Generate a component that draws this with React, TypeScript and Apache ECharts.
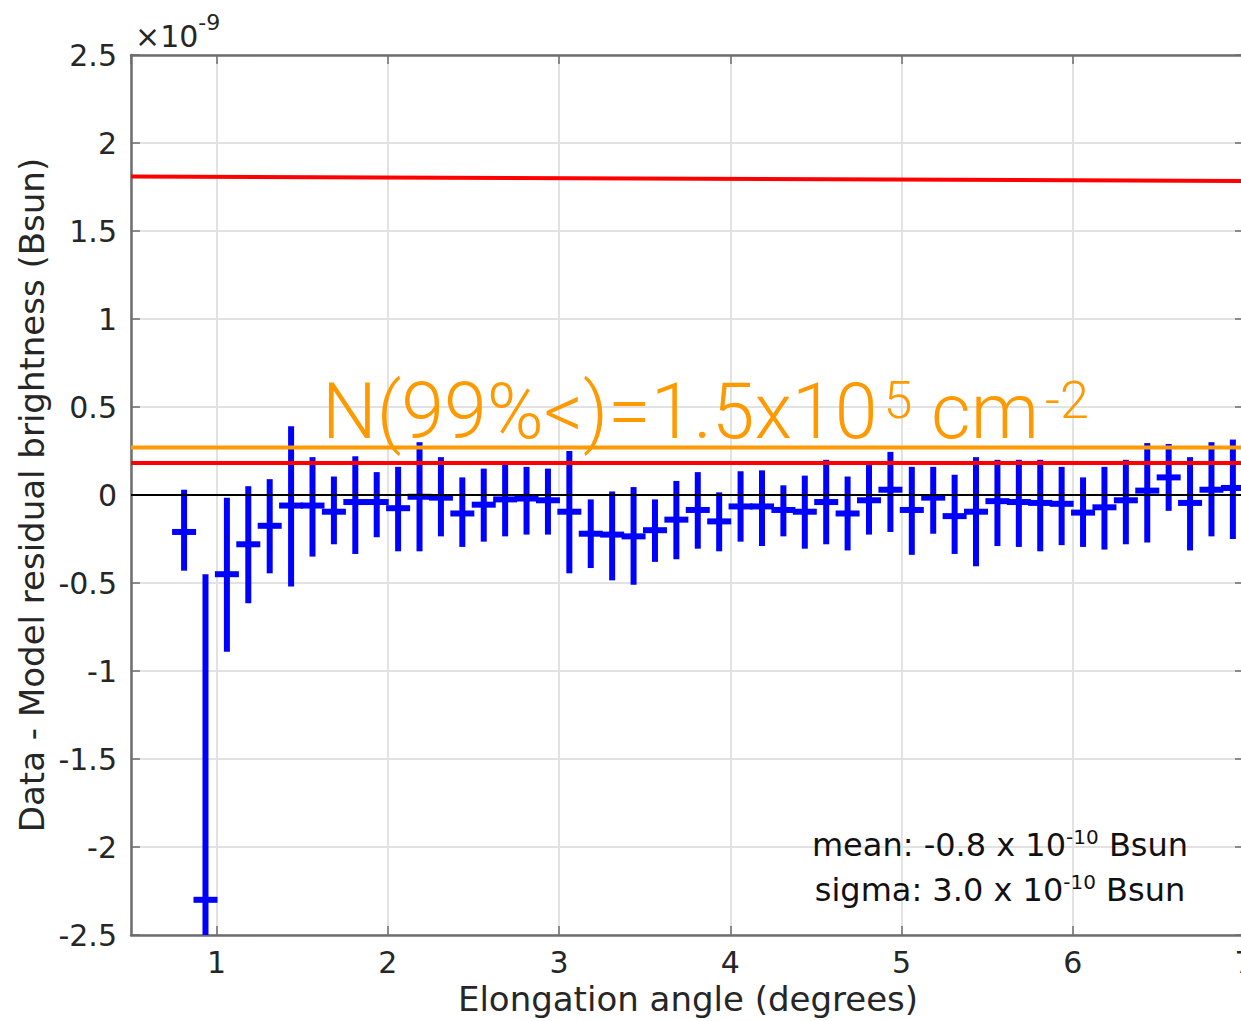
import { useEffect, useRef } from "react";
import * as echarts from "echarts";

// Elongation angle of each bin (degrees)
const ELONGATION = [
  0.81, 0.935, 1.06, 1.185, 1.31, 1.435, 1.56, 1.685, 1.81, 1.935,
  2.06, 2.185, 2.31, 2.435, 2.56, 2.685, 2.81, 2.935, 3.06, 3.185,
  3.31, 3.435, 3.56, 3.685, 3.81, 3.935, 4.06, 4.185, 4.31, 4.435,
  4.56, 4.685, 4.81, 4.935, 5.06, 5.185, 5.31, 5.435, 5.56, 5.685,
  5.81, 5.935, 6.06, 6.185, 6.31, 6.435, 6.56, 6.685, 6.81, 6.935,
];

// Data - model residual brightness per bin (units of 1e-9 Bsun)
const RESIDUAL = [
  -0.21, -2.3, -0.45, -0.28, -0.175, -0.06, -0.06, -0.095, -0.04, -0.04,
  -0.075, -0.01, -0.015, -0.105, -0.055, -0.025, -0.02, -0.03, -0.095, -0.22,
  -0.225, -0.235, -0.2, -0.14, -0.085, -0.15, -0.065, -0.065, -0.085, -0.095,
  -0.04, -0.105, -0.03, 0.03, -0.085, -0.015, -0.12, -0.095, -0.035, -0.04,
  -0.045, -0.05, -0.1, -0.07, -0.03, 0.025, 0.1, -0.045, 0.03, 0.04,
];

// Upper end of each error bar
const RESIDUAL_HIGH = [
  0.03, -0.45, -0.015, 0.05, 0.09, 0.39, 0.215, 0.105, 0.22, 0.13,
  0.16, 0.3, 0.215, 0.1, 0.15, 0.175, 0.16, 0.15, 0.25, -0.025,
  0.02, 0.045, -0.025, 0.08, 0.13, 0.015, 0.135, 0.14, 0.055, 0.11,
  0.2, 0.105, 0.17, 0.245, 0.16, 0.16, 0.115, 0.215, 0.2, 0.2,
  0.2, 0.16, 0.1, 0.16, 0.2, 0.295, 0.29, 0.215, 0.3, 0.315,
];

// Lower end of each error bar
const RESIDUAL_LOW = [
  -0.43, -2.5, -0.89, -0.615, -0.445, -0.52, -0.35, -0.28, -0.335, -0.24,
  -0.32, -0.32, -0.235, -0.295, -0.265, -0.235, -0.225, -0.225, -0.445, -0.415,
  -0.485, -0.51, -0.38, -0.365, -0.305, -0.32, -0.265, -0.29, -0.235, -0.305,
  -0.28, -0.315, -0.225, -0.21, -0.34, -0.22, -0.335, -0.405, -0.29, -0.295,
  -0.32, -0.285, -0.295, -0.31, -0.28, -0.27, -0.09, -0.315, -0.235, -0.25,
];

const X_EXTENT = [0.5, 7];
const X_TICKS = [1, 2, 3, 4, 5, 6, 7];
const Y_EXTENT = [-2.5, 2.5];
const Y_STEP = 0.5;

// Reference levels (units of 1e-9 Bsun) at the two ends of the x range
const UPPER_LIMIT = [1.809, 1.784];
const LOWER_LIMIT = [0.182, 0.182];
const COLUMN_LIMIT = [0.27, 0.27];
const ZERO_LEVEL = [0, 0];

const FONT = '"DejaVu Sans", Verdana, sans-serif';
const LIGHT_FONT = 'Roboto, "Liberation Sans", sans-serif';
const AXIS_COLOR = "#6e6e6e";
const TEXT_COLOR = "#262626";

function levelLine(values: number[], color: string, width: number) {
  return {
    type: "line",
    data: [
      [X_EXTENT[0], values[0]],
      [X_EXTENT[1], values[1]],
    ],
    symbol: "none",
    silent: true,
    z: 5,
    lineStyle: { color, width },
  };
}

export default function App() {
  const ref = useRef<HTMLDivElement>(null);

  useEffect(() => {
    if (!ref.current) return;
    const chart = echarts.init(ref.current, null, { renderer: "svg" });

    const axisLine = { show: true, onZero: false, lineStyle: { color: AXIS_COLOR, width: 2.5 } };
    const axisTick = { show: true, inside: true, length: 9, lineStyle: { color: AXIS_COLOR, width: 1.5 } };
    const splitLine = { show: true, lineStyle: { color: "#e2e2e2", width: 2 } };

    const bars = ELONGATION.map((x, i) => [x, RESIDUAL[i], RESIDUAL_LOW[i], RESIDUAL_HIGH[i]]);

    const statStyle = {
      b: { fontSize: 32, fontFamily: FONT, fill: "#111111", lineHeight: 38, verticalAlign: "bottom" },
      s: { fontSize: 20, fontFamily: FONT, fill: "#111111", lineHeight: 20, verticalAlign: "top", padding: [4, 0, 0, 0] },
    };

    chart.setOption({
      animation: false,
      backgroundColor: "#ffffff",
      grid: {
        left: 131,
        top: 55,
        width: 1113,
        height: 880,
        containLabel: false,
        outerBoundsMode: "none",
      },
      xAxis: [
        {
          type: "value",
          min: X_EXTENT[0],
          max: X_EXTENT[1],
          splitNumber: 7,
          position: "bottom",
          axisLine,
          axisTick,
          splitLine,
          axisLabel: {
            margin: 12,
            fontSize: 30,
            color: TEXT_COLOR,
            fontFamily: FONT,
            showMinLabel: false,
            hideOverlap: false,
            formatter: (v: number) => (X_TICKS.includes(v) ? String(v) : ""),
          },
        },
        {
          type: "value",
          min: X_EXTENT[0],
          max: X_EXTENT[1],
          splitNumber: 7,
          position: "top",
          axisLine,
          axisTick,
          splitLine: { show: false },
          axisLabel: { show: false },
        },
      ],
      yAxis: [
        {
          type: "value",
          min: Y_EXTENT[0],
          max: Y_EXTENT[1],
          interval: Y_STEP,
          position: "left",
          axisLine,
          axisTick,
          splitLine,
          axisLabel: {
            margin: 14,
            fontSize: 30,
            color: TEXT_COLOR,
            fontFamily: FONT,
          },
        },
        {
          type: "value",
          min: Y_EXTENT[0],
          max: Y_EXTENT[1],
          interval: Y_STEP,
          position: "right",
          axisLine,
          axisTick,
          splitLine: { show: false },
          axisLabel: { show: false },
        },
      ],
      series: [
        {
          type: "custom",
          xAxisIndex: 0,
          yAxisIndex: 0,
          clip: true,
          z: 3,
          data: bars,
          encode: { x: 0, y: [1, 2, 3] },
          renderItem: (_params: any, api: any) => {
            const x = api.value(0);
            const mid = api.coord([x, api.value(1)]);
            const lo = api.coord([x, api.value(2)]);
            const hi = api.coord([x, api.value(3)]);
            const style = { stroke: "#0000ff", lineWidth: 6, lineCap: "butt" };
            return {
              type: "group",
              children: [
                { type: "line", shape: { x1: lo[0], y1: lo[1], x2: hi[0], y2: hi[1] }, style },
                { type: "line", shape: { x1: mid[0] - 12, y1: mid[1], x2: mid[0] + 12, y2: mid[1] }, style },
              ],
            };
          },
        },
        levelLine(ZERO_LEVEL, "#000000", 2),
        levelLine(UPPER_LIMIT, "#ff0000", 4),
        levelLine(LOWER_LIMIT, "#ff0000", 4),
        levelLine(COLUMN_LIMIT, "#ff9900", 4),
      ],
      graphic: [
        {
          type: "text",
          x: 135,
          y: 31,
          z: 10,
          style: {
            text: "{b|×10}{s|-9}",
            align: "left",
            verticalAlign: "middle",
            rich: {
              b: { fontSize: 30, fontFamily: FONT, fill: TEXT_COLOR, lineHeight: 40, verticalAlign: "bottom" },
              s: { fontSize: 22, fontFamily: FONT, fill: TEXT_COLOR, lineHeight: 16, verticalAlign: "top" },
            },
          },
        },
        {
          type: "text",
          x: 32,
          y: 495,
          rotation: Math.PI / 2,
          z: 10,
          style: {
            text: "Data - Model residual brightness (Bsun)",
            fontSize: 34,
            fontFamily: FONT,
            fill: TEXT_COLOR,
            align: "center",
            verticalAlign: "middle",
          },
        },
        {
          type: "text",
          x: 688,
          y: 999,
          z: 10,
          style: {
            text: "Elongation angle (degrees)",
            fontSize: 34,
            fontFamily: FONT,
            fill: TEXT_COLOR,
            align: "center",
            verticalAlign: "middle",
          },
        },
        {
          type: "text",
          x: 322,
          y: 408,
          z: 10,
          style: {
            text: "{b|N(99%<)=1.5x10}{s|5}{b| cm}{s|-2}",
            align: "left",
            verticalAlign: "middle",
            rich: {
              b: { fontSize: 77, fontFamily: LIGHT_FONT, fontWeight: 300, fill: "#ff9900", lineHeight: 84, verticalAlign: "bottom" },
              s: { fontSize: 52, fontFamily: LIGHT_FONT, fontWeight: 300, fill: "#ff9900", lineHeight: 52, verticalAlign: "top", padding: [8, 0, 0, 6] },
            },
          },
        },
        {
          type: "text",
          x: 1000,
          y: 842,
          z: 10,
          style: {
            text: "{b|mean: -0.8 x 10}{s|-10}{b| Bsun}",
            align: "center",
            verticalAlign: "middle",
            rich: statStyle,
          },
        },
        {
          type: "text",
          x: 1000,
          y: 887,
          z: 10,
          style: {
            text: "{b|sigma: 3.0 x 10}{s|-10}{b| Bsun}",
            align: "center",
            verticalAlign: "middle",
            rich: statStyle,
          },
        },
      ],
    });

    return () => chart.dispose();
  }, []);

  return (
    <div
      ref={ref}
      style={{ position: "absolute", left: 0, top: 0, width: 1241, height: 1021, background: "#fff" }}
    />
  );
}
